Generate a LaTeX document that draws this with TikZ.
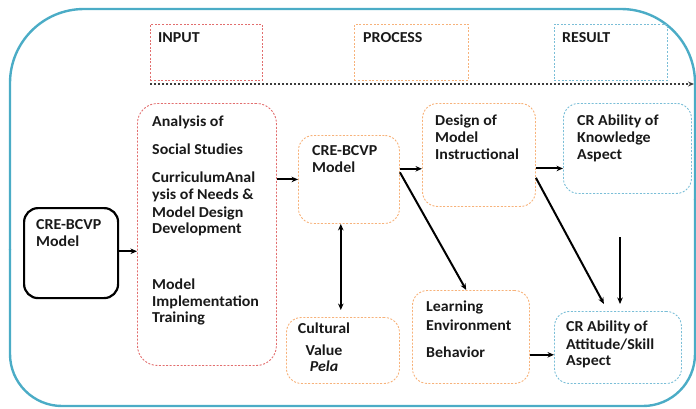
\documentclass[tikz,border=0pt]{standalone}
\usepackage{fontspec}
\setmainfont[FakeStretch=1.05]{Carlito}
\usetikzlibrary{arrows.meta,calc}
\definecolor{frameblue}{RGB}{75,172,198}
\definecolor{inred}{RGB}{226,110,110}
\definecolor{procor}{RGB}{247,178,122}
\definecolor{resblue}{RGB}{122,190,215}
\definecolor{txtc}{RGB}{25,25,25}
\definecolor{tlgray}{RGB}{60,60,60}
\begin{document}
\begin{tikzpicture}[x=1pt,y=-1pt,
  box/.style={draw, anchor=north west, inner sep=0pt, line width=0.9pt, dash pattern=on 2pt off 1.6pt, rounded corners=15pt},
  hdr/.style={draw, anchor=north west, inner sep=0pt, line width=0.8pt, dash pattern=on 2pt off 1.6pt},
  txt/.style={anchor=base west, inner sep=0pt, font=\bfseries\fontsize{15.2}{17}\selectfont, text=txtc},
  ctxt/.style={anchor=base, inner sep=0pt, font=\bfseries\fontsize{15.2}{17}\selectfont, text=txtc},
  arr/.style={-{Stealth[length=6.5pt,width=5.5pt]}, line width=2pt, black},
]
\useasboundingbox (0,0) rectangle (696,408);
% outer frame
\draw[frameblue, line width=2.4pt, rounded corners=74pt] (10,250) |- (400,9) -| (695,200);
\draw[frameblue, line width=2.4pt, rounded corners=52pt] (695,199) |- (300,406) -| (10,249);

% header boxes
\node[hdr, draw=inred, minimum width=112pt, minimum height=56pt] (hin) at (150,24) {};
\node[hdr, draw=procor, minimum width=114pt, minimum height=56pt] (hpr) at (354,24) {};
\node[hdr, draw=resblue, minimum width=113pt, minimum height=56pt] (hre) at (554,24) {};
\node[txt] (thin) at (158,42) {INPUT};
\node[txt] (thpr) at (363,42) {PROCESS};
\node[txt] (thre) at (562,42) {RESULT};

% timeline
\coordinate (tl1) at (150,84);
\coordinate (tl2) at (694,84);
\draw[tlgray, line width=1.1pt, dash pattern=on 2.2pt off 1.8pt, -{Stealth[length=6pt,width=5pt]}] (tl1) -- (tl2);

% left model box
\node[draw, anchor=north west, inner sep=0pt, line width=2.2pt, rounded corners=14pt, minimum width=94pt, minimum height=90pt] (crel) at (23,207) {};
\node[txt] (tc1) at (36,229) {CRE-BCVP};
\node[txt] (tc2) at (36,246) {Model};

% analysis box
\node[box, draw=inred, rounded corners=20pt, minimum width=139pt, minimum height=262pt] (anal) at (137,103) {};
\node[txt] (ta1) at (152,126) {Analysis of};
\node[txt] (ta2) at (152,154) {Social Studies};
\node[txt] (ta3) at (152,182) {CurriculumAnal};
\node[txt] (ta4) at (152,199) {ysis of Needs \&};
\node[txt] (ta5) at (152,217) {Model Design};
\node[txt] (ta6) at (152,233) {Development};
\node[txt] (ta7) at (152,289) {Model};
\node[txt] (ta8) at (152,306) {Implementation};
\node[txt] (ta9) at (152,322) {Training};

% middle model box
\node[box, draw=procor, minimum width=101pt, minimum height=88pt] (mid) at (298,135) {};
\node[txt] (tm1) at (312,155) {CRE-BCVP};
\node[txt] (tm2) at (312,172) {Model};

% design box
\node[box, draw=procor, minimum width=113pt, minimum height=103pt] (des) at (422,103) {};
\node[txt] (td1) at (435,125) {Design of};
\node[txt] (td2) at (435,142) {Model};
\node[txt] (td3) at (435,159) {Instructional};

% knowledge box
\node[box, draw=resblue, minimum width=128pt, minimum height=90pt] (know) at (563,103) {};
\node[txt] (tk1) at (577,125) {CR Ability of};
\node[txt] (tk2) at (577,142) {Knowledge};
\node[txt] (tk3) at (577,159) {Aspect};

% cultural box
\node[box, draw=procor, minimum width=113pt, minimum height=66pt] (cult) at (286,317) {};
\node[ctxt] (tu1) at (324,333) {Cultural};
\node[ctxt] (tu2) at (324,355) {Value};
\node[ctxt, font=\bfseries\itshape\fontsize{15.2}{17}\selectfont] (tu3) at (324,371) {Pela};

% learning box
\node[box, draw=procor, minimum width=117pt, minimum height=93pt] (learn) at (412,290) {};
\node[txt] (tl_1) at (426,311) {Learning};
\node[txt] (tl_2) at (426,330) {Environment};
\node[txt] (tl_3) at (426,357) {Behavior};

% attitude box
\node[box, draw=resblue, minimum width=127pt, minimum height=72pt] (att) at (554,311) {};
\node[txt] (tt1) at (566,331) {CR Ability of};
\node[txt] (tt2) at (566,349) {Attitude/Skill};
\node[txt] (tt3) at (566,365) {Aspect};

% connectors
\draw[arr] ($(crel.north east)!0.48!(crel.south east)$) coordinate (c1) -- (c1 -| anal.west);
\draw[arr] (anal.east |- mid.west) -- (mid.west);
\draw[arr] ($(mid.north east)!0.38!(mid.south east)$) coordinate (m1) -- (m1 -| des.west);
\draw[arr] ($(mid.north east)!0.42!(mid.south east)$) -- ($(learn.north west)!0.46!(learn.north east)$);
\draw[arr] ($(des.north east)!0.63!(des.south east)$) coordinate (d1) -- (d1 -| know.west);
\draw[arr, shorten >=8pt] ($(des.north east)!0.72!(des.south east)$) -- ($(att.north west)!0.42!(att.north east)$);
\coordinate (vs) at (620,237);
\draw[arr, shorten >=7pt] (vs) -- (vs |- att.north);
\draw[arr] ($(learn.north east)!0.69!(learn.south east)$) coordinate (l1) -- (l1 -| att.west);
\draw[{Stealth[length=6.5pt,width=5.5pt]}-{Stealth[length=6.5pt,width=5.5pt]}, line width=2pt, shorten >=7pt]
  ($(mid.south west)!0.42!(mid.south east)$) coordinate (m2) -- (m2 |- cult.north);
\end{tikzpicture}
\end{document}
